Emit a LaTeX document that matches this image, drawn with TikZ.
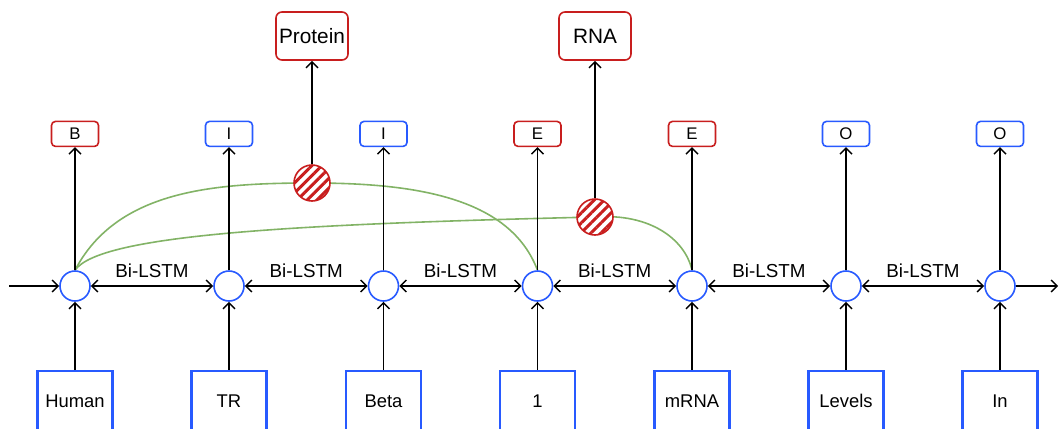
\documentclass[tikz,border=0pt]{standalone}
\usepackage{fontspec}
\setmainfont{Liberation Sans}
\usetikzlibrary{arrows.meta, positioning, patterns.meta}
\definecolor{lstmblue}{RGB}{40,90,255}
\definecolor{tagred}{RGB}{200,30,30}
\definecolor{linkgreen}{RGB}{130,179,102}
\tikzset{
  hidden/.style={circle,draw=lstmblue,line width=0.8pt,fill=white,minimum size=15pt,inner sep=0pt},
  word/.style={rectangle,draw=lstmblue,line width=1.2pt,fill=white,minimum width=37.5pt,minimum height=29.5pt,text height=6.6pt,text depth=0pt,yshift=1pt,font=\fontsize{9.2}{11}\selectfont},
  tagb/.style={rectangle,rounded corners=2pt,draw=lstmblue,line width=0.8pt,minimum width=23.5pt,minimum height=12.5pt,inner sep=0pt,font=\fontsize{8.4}{9}\selectfont},
  tagr/.style={tagb,draw=tagred},
  entity/.style={rectangle,rounded corners=3pt,draw=tagred,line width=0.8pt,minimum width=36pt,minimum height=24pt,inner sep=1pt,font=\fontsize{10.4}{12}\selectfont},
  pair/.style={circle,draw=tagred,line width=0.8pt,minimum size=18pt,inner sep=0pt,preaction={fill=white},pattern={Lines[angle=45,distance=3.5pt,line width=1.5pt]},pattern color=tagred},
  flow/.style={line width=0.7pt,-{Straight Barb[length=3pt,width=6pt]}},
  biflow/.style={line width=0.7pt,{Straight Barb[length=3pt,width=6pt]}-{Straight Barb[length=3pt,width=6pt]}},
  link/.style={draw=linkgreen,line width=0.8pt},
  lstm/.style={midway,above=0.5pt,font=\fontsize{9.4}{11}\selectfont},
}
\pgfdeclarelayer{back}
\pgfsetlayers{back,main}

\begin{document}
\begin{tikzpicture}[x=0.5pt,y=-0.5pt]
  \useasboundingbox (0,0) rectangle (1059,428);
  % hidden states
  \node[hidden] (H1) at (75,286) {};
  \node[hidden] (H2) at (229,286) {};
  \node[hidden] (H3) at (383.5,286) {};
  \node[hidden] (H4) at (537.5,286) {};
  \node[hidden] (H5) at (692,286) {};
  \node[hidden] (H6) at (846,286) {};
  \node[hidden] (H7) at (1000,286) {};
  % words
  \node[word,below=35pt of H1] (W1) {Human};
  \node[word,below=35pt of H2] (W2) {TR};
  \node[word,below=35pt of H3] (W3) {Beta};
  \node[word,below=35pt of H4] (W4) {1};
  \node[word,below=35pt of H5] (W5) {mRNA};
  \node[word,below=35pt of H6] (W6) {Levels};
  \node[word,below=35pt of H7] (W7) {In};
  % tags
  \node[tagr,above=61.5pt of H1] (T1) {B};
  \node[tagb,above=61.5pt of H2] (T2) {I};
  \node[tagb,above=61.5pt of H3] (T3) {I};
  \node[tagr,above=61.5pt of H4] (T4) {E};
  \node[tagr,above=61.5pt of H5] (T5) {E};
  \node[tagb,above=61.5pt of H6] (T6) {O};
  \node[tagb,above=61.5pt of H7] (T7) {O};
  % relations
  \node[pair] (P1) at (312,183) {};
  \node[pair] (P2) at (595,217) {};
  \node[entity] (PROTEIN) at (312,36) {Protein};
  \node[entity] (RNA) at (595,36) {RNA};
  \coordinate (IN) at (9,286);
  \coordinate (OUT) at (1058,286);

  \draw[flow] (IN) -- (H1);
  \draw[biflow] (H1) -- node[lstm] {Bi-LSTM} (H2);
  \draw[biflow] (H2) -- node[lstm] {Bi-LSTM} (H3);
  \draw[biflow] (H3) -- node[lstm] {Bi-LSTM} (H4);
  \draw[biflow] (H4) -- node[lstm] {Bi-LSTM} (H5);
  \draw[biflow] (H5) -- node[lstm] {Bi-LSTM} (H6);
  \draw[biflow] (H6) -- node[lstm] {Bi-LSTM} (H7);
  \draw[flow] (H7) -- (OUT);
  \draw[flow] (W1) -- (H1);
  \draw[flow] (W2) -- (H2);
  \draw[flow] (W3) -- (H3);
  \draw[flow] (W4) -- (H4);
  \draw[flow] (W5) -- (H5);
  \draw[flow] (W6) -- (H6);
  \draw[flow] (W7) -- (H7);
  \draw[flow] (H1) -- (T1);
  \draw[flow] (H2) -- (T2);
  \draw[flow] (H3) -- (T3);
  \draw[flow] (H4) -- (T4);
  \draw[flow] (H5) -- (T5);
  \draw[flow] (H6) -- (T6);
  \draw[flow] (H7) -- (T7);
  \draw[flow] (P1) -- (PROTEIN);
  \draw[flow] (P2) -- (RNA);
  \begin{pgfonlayer}{back}
    \draw[link] (H1.north) .. controls +(42,-80) and +(-99,0) .. (P1.center)
      .. controls +(108,0) and +(-27,-71) .. (H4.north);
    \draw[link] (H1.north) .. controls +(25,-36) and +(-296,7) .. (P2.center)
      .. controls +(55,-4) and +(-7,-31) .. (H5.north);
  \end{pgfonlayer}
\end{tikzpicture}
\end{document}
